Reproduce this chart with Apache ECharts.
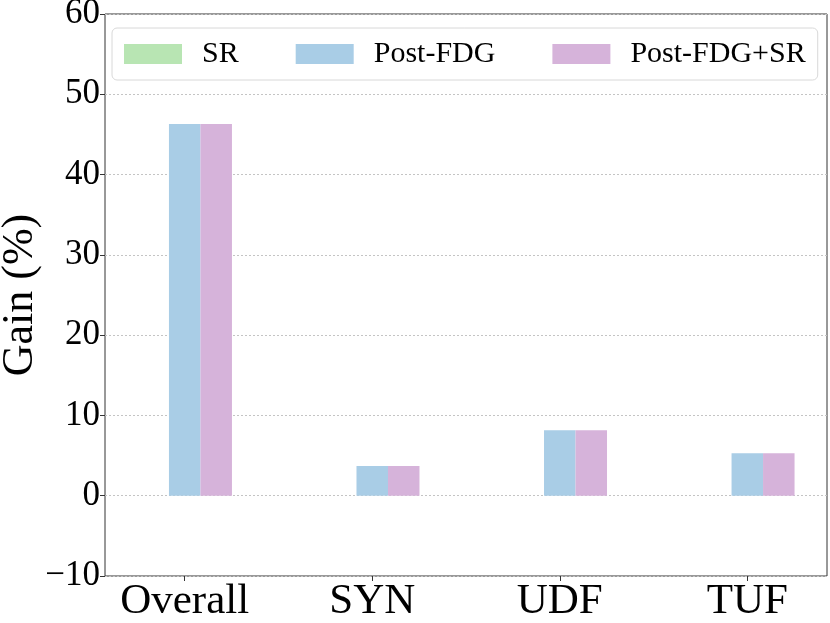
<!DOCTYPE html>
<html>
<head>
<meta charset="utf-8">
<script src="https://cdn.jsdelivr.net/npm/echarts@6/dist/echarts.min.js"></script>
<style>
html,body{margin:0;padding:0;background:#fff;}
#chart{width:830px;height:623px;}
</style>
</head>
<body>
<div id="chart"></div>
<script>
var categories = ['Overall', 'SYN', 'UDF', 'TUF'];
var srGain = [0, 0, 0, 0];
var postFdgGain = [46.3, 3.7, 8.15, 5.3];
var postFdgSrGain = [46.3, 3.7, 8.15, 5.3];
var yTicks = {min: -10, max: 60, step: 10};

var chart = echarts.init(document.getElementById('chart'));
var font = 'Liberation Serif';

function pts(vals){
	return vals.map(function(v, i){ return [i, v]; });
}
var idx = categories.map(function(c, i){ return i; });

var option = {
	animation: false,
	textStyle: {fontFamily: font},
	grid: {
		left: 105, right: 3, top: 14, bottom: 47,
		outerBoundsMode: 'none', containLabel: false,
		show: true, borderColor: '#333', borderWidth: 1
	},
	legend: {
		left: 112, top: 28,
		padding: [11, 12, 11, 12],
		itemWidth: 58, itemHeight: 20,
		itemGap: 57,
		backgroundColor: 'rgba(255,255,255,0.8)',
		borderColor: '#d8d8d8', borderWidth: 1, borderRadius: 5,
		icon: 'rect',
		textStyle: {fontFamily: font, fontSize: 30, color: '#000', padding: [0, 0, 0, 15]},
		data: ['SR', 'Post-FDG', 'Post-FDG+SR']
	},
	xAxis: {
		type: 'value',
		min: -0.425, max: 3.425,
		axisLine: {show: false, onZero: false},
		splitLine: {show: false},
		axisTick: {show: true, customValues: idx, length: 5, lineStyle: {color: '#333'}},
		axisLabel: {
			customValues: idx,
			fontFamily: font, fontSize: 43, color: '#000', margin: 4,
			formatter: function(v){ return categories[Math.round(v)]; }
		}
	},
	yAxis: {
		type: 'value',
		min: yTicks.min, max: yTicks.max, interval: yTicks.step,
		name: 'Gain (%)',
		nameLocation: 'middle',
		nameGap: 63,
		nameMoveOverlap: false,
		nameTextStyle: {fontFamily: font, fontSize: 44, color: '#000'},
		axisLine: {show: false, onZero: false},
		axisTick: {show: true, length: 5, lineStyle: {color: '#333'}},
		axisLabel: {
			fontFamily: font, fontSize: 35, color: '#000', margin: 5,
			formatter: function(v){ return v < 0 ? '\u2212' + Math.abs(v) : String(v); }
		},
		splitLine: {show: true, lineStyle: {color: '#c4c4c4', type: [2, 2], width: 1}}
	},
	series: [
		{name: 'SR', type: 'bar', data: pts(srGain), barWidth: 31.5, barGap: '0%',
			itemStyle: {color: '#b8e5b3'}},
		{name: 'Post-FDG', type: 'bar', data: pts(postFdgGain), barWidth: 31.5, barGap: '0%',
			itemStyle: {color: '#a9cde6'}},
		{name: 'Post-FDG+SR', type: 'bar', data: pts(postFdgSrGain), barWidth: 31.5, barGap: '0%',
			itemStyle: {color: '#d6b3da'}}
	]
};

chart.setOption(option);
</script>
</body>
</html>
